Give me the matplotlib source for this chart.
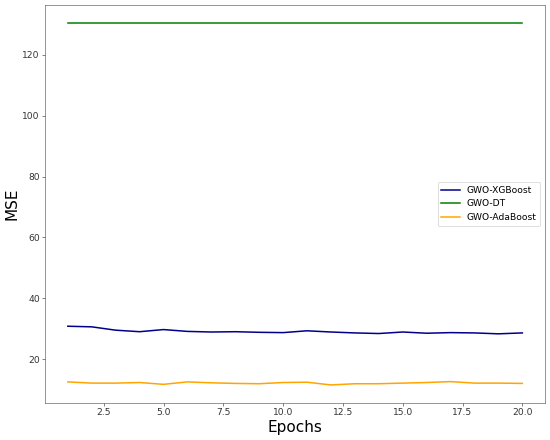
import matplotlib
matplotlib.use('Agg')
import matplotlib.pyplot as plt

# Epochs and MSE per model
epochs = list(range(1, 21))
mse_xgb = [30.8, 30.6, 29.5, 29.0, 29.7, 29.1, 28.9, 29.0, 28.8, 28.7,
           29.3, 28.9, 28.6, 28.4, 28.9, 28.5, 28.7, 28.6, 28.3, 28.6]
mse_dt = [130.5] * 20
mse_ada = [12.5, 12.1, 12.1, 12.3, 11.7, 12.5, 12.2, 12.0, 11.9, 12.3,
           12.4, 11.5, 11.9, 11.9, 12.1, 12.3, 12.6, 12.1, 12.1, 12.0]

fig = plt.figure(figsize=(10, 8), dpi=55)
ax = fig.add_axes([0.082, 0.084, 0.909, 0.905])
ax.plot(epochs, mse_xgb, color='darkblue', linewidth=2, label='GWO-XGBoost')
ax.plot(epochs, mse_dt, color='green', linewidth=2, label='GWO-DT')
ax.plot(epochs, mse_ada, color='orange', linewidth=2, label='GWO-AdaBoost')

ax.set_xlabel('Epochs', fontsize=20)
ax.set_ylabel('MSE', fontsize=20)
ax.tick_params(labelsize=12, colors='#333333')
for s in ax.spines.values():
    s.set_color('#555555')
ax.legend(loc='center right', fontsize=12)

plt.savefig('out.png', dpi=55)
plt.close()
